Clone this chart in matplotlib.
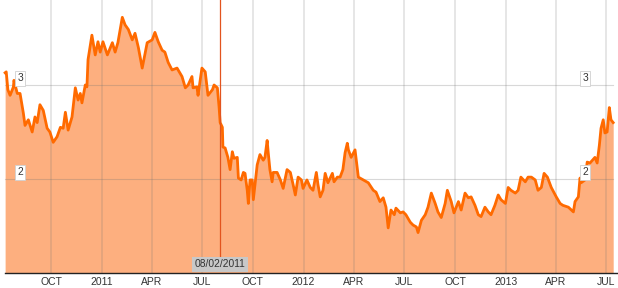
import matplotlib
matplotlib.use("Agg")
import matplotlib.pyplot as plt
import matplotlib.dates as mdates
import numpy as np
import datetime as dt

# ---- data -------------------------------------------------------------
origin = "2010-07-01"
day_offsets = [9, 11, 14, 18, 24, 25, 31, 36, 42, 45, 51, 58, 63, 67, 72, 78, 85, 90, 96, 103,
               109, 114, 118, 123, 130, 136, 141, 145, 148, 154, 157, 159, 166, 172, 177, 181, 186, 194, 203, 208,
               213, 221, 226, 232, 239, 244, 250, 257, 266, 275, 280, 286, 293, 298, 304, 311, 320, 329, 335, 340,
               347, 349, 356, 358, 365, 371, 376, 384, 387, 393, 396, 398, 402, 403, 407, 412, 416, 420, 423, 429,
               431, 436, 440, 443, 447, 449, 452, 456, 458, 465, 470, 476, 479, 483, 485, 488, 492, 494, 501, 507,
               512, 519, 525, 530, 534, 539, 545, 548, 555, 561, 566, 572, 575, 579, 584, 588, 593, 601, 604, 610,
               615, 620, 624, 628, 630, 635, 642, 648, 657, 666, 675, 680, 687, 693, 698, 702, 707, 713, 716, 724,
               729, 734, 742, 747, 753, 756, 762, 769, 774, 780, 787, 792, 798, 805, 809, 816, 821, 829, 834, 841,
               847, 852, 859, 865, 870, 877, 883, 888, 895, 901, 906, 914, 919, 924, 932, 937, 942, 950, 955, 961,
               968, 973, 979, 984, 990, 997, 1006, 1013, 1018, 1028, 1037, 1040, 1046, 1049, 1051, 1058, 1062, 1067, 1076, 1080,
               1084, 1087, 1091, 1094, 1098, 1102, 1105, 1109]
values = [3.13, 3.14, 2.95, 2.89, 2.98, 3.05, 2.91, 2.91, 2.70, 2.57, 2.63, 2.50, 2.66, 2.60, 2.79, 2.73, 2.54, 2.50, 2.39, 2.45,
          2.55, 2.54, 2.71, 2.52, 2.66, 2.97, 2.84, 2.91, 2.81, 3.00, 2.98, 3.27, 3.53, 3.32, 3.46, 3.35, 3.46, 3.32, 3.45, 3.35,
          3.45, 3.72, 3.64, 3.59, 3.48, 3.55, 3.40, 3.18, 3.45, 3.48, 3.56, 3.46, 3.37, 3.35, 3.24, 3.16, 3.18, 3.09, 2.97, 3.00,
          3.09, 2.97, 2.98, 2.89, 3.18, 3.14, 2.89, 2.95, 3.00, 2.97, 2.77, 2.60, 2.55, 2.34, 2.33, 2.23, 2.10, 2.29, 2.22, 2.23,
          2.01, 1.99, 2.07, 2.06, 1.88, 1.74, 1.99, 1.99, 1.78, 2.15, 2.26, 2.20, 2.23, 2.41, 2.28, 2.10, 1.97, 2.07, 2.07, 1.99,
          1.90, 2.10, 2.07, 1.94, 1.83, 2.02, 1.99, 1.90, 1.99, 1.91, 1.88, 2.07, 1.94, 1.81, 1.88, 2.06, 1.96, 2.06, 1.97, 2.02,
          2.02, 2.10, 2.28, 2.38, 2.31, 2.23, 2.31, 2.02, 1.99, 1.96, 1.88, 1.86, 1.76, 1.80, 1.70, 1.48, 1.67, 1.62, 1.69, 1.64,
          1.65, 1.62, 1.54, 1.51, 1.49, 1.43, 1.56, 1.62, 1.70, 1.85, 1.74, 1.65, 1.59, 1.74, 1.88, 1.76, 1.64, 1.76, 1.67, 1.85,
          1.80, 1.81, 1.72, 1.62, 1.60, 1.70, 1.65, 1.62, 1.72, 1.83, 1.78, 1.74, 1.91, 1.88, 1.85, 1.88, 2.02, 1.97, 2.02, 2.02,
          1.99, 1.88, 1.91, 2.06, 2.02, 1.91, 1.81, 1.74, 1.72, 1.70, 1.65, 1.76, 1.81, 2.01, 1.96, 1.99, 2.18, 2.17, 2.23, 2.17,
          2.36, 2.54, 2.63, 2.49, 2.50, 2.76, 2.63, 2.60]

tick_dates = ["2010-10-01", "2011-01-01", "2011-04-01", "2011-07-01", "2011-10-01", "2012-01-01",
              "2012-04-01", "2012-07-01", "2012-10-01", "2013-01-01", "2013-04-01", "2013-07-01"]
tick_labels = ["OCT", "2011", "APR", "JUL", "OCT", "2012", "APR", "JUL", "OCT", "2013", "APR", "JUL"]
level_values = [2, 3]
marker_date = "2011-08-02"
marker_label = "08/02/2011"

# ---- build -------------------------------------------------------------
o = dt.date.fromisoformat(origin)
dates = [o + dt.timedelta(days=d) for d in day_offsets]
xd = mdates.date2num(dates)
tx = mdates.date2num([dt.date.fromisoformat(s) for s in tick_dates])
mx = mdates.date2num(dt.date.fromisoformat(marker_date))

W, H = 618, 288
fig = plt.figure(figsize=(W / 100, H / 100), dpi=100)
ax = fig.add_axes([0, (H - 273) / H, 1, 273 / H])

px_per_day = 555 / (tx[-1] - tx[0])
x0 = tx[0] - 51 / px_per_day
ax.set_xlim(x0, x0 + W / px_per_day)
ymin = 1.0
ytop = 2 + 179 / 94
ax.set_ylim(ymin, ytop)

line_color = "#FF6A00"
fill_color = "#FDAF7F"

ax.fill_between(xd, values, ymin, color=fill_color, lw=0, zorder=1)

# vertical grid lines
for t in tx:
    ax.axvline(t, color=(0.45, 0.45, 0.45), alpha=0.18, lw=1.4, zorder=2)
# horizontal level lines
for lv in level_values:
    ax.plot([xd[0], xd[-1]], [lv, lv], color=(0.45, 0.45, 0.45), alpha=0.28, lw=0.8, zorder=2)

ax.plot(xd, values, color=line_color, lw=2.0, zorder=3, solid_joinstyle="round")

# marker line
ax.plot([mx, mx], [ymin + 0.1, ytop], color="#E2541E", lw=0.9, zorder=4)
ax.text(mx, ymin + 0.095, marker_label, ha="center", va="center", fontsize=7.4,
        family="Liberation Sans", color="#333333", zorder=6,
        bbox=dict(boxstyle="square,pad=0.25", fc="#c8c8c8", ec="none"))

# level labels
for lv in level_values:
    for xf in (20 / W, 585 / W):
        ax.text(xf, lv + 0.07, str(lv), transform=ax.get_yaxis_transform(), ha="center", va="center",
                fontsize=7.4, family="Liberation Sans", color="#333333", zorder=6,
                bbox=dict(boxstyle="square,pad=0.25", fc="white", ec="#d0d0d0", lw=0.6))

for s in ["top", "left", "right"]:
    ax.spines[s].set_visible(False)
ax.spines["bottom"].set_bounds(xd[0], x0 + W / px_per_day)
ax.spines["bottom"].set_color("#222222")
ax.spines["bottom"].set_linewidth(1.0)
ax.set_yticks([])
ax.set_xticks(tx)
ax.set_xticklabels(tick_labels, fontsize=7.5, family="Liberation Sans", color="#333333")
ax.tick_params(axis="x", length=0, pad=3)

fig.savefig("out.png", dpi=100)
